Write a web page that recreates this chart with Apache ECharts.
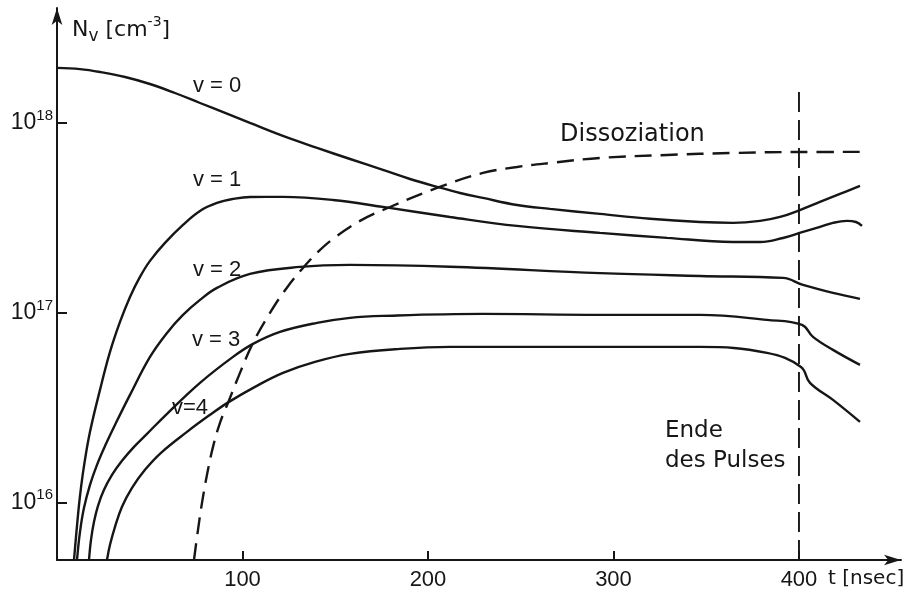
<!DOCTYPE html>
<html>
<head>
<meta charset="utf-8">
<script src="https://cdn.jsdelivr.net/npm/echarts@6/dist/echarts.min.js"></script>
<style>
  html, body { margin: 0; padding: 0; background: #ffffff; }
  #chart { width: 915px; height: 603px; }
</style>
</head>
<body>
<div id="chart"></div>
<script>
// Vibrational level populations N_v [cm^-3] versus time t [nsec]

// axis ticks and ranges
const xTicks = [100, 200, 300, 400];
const yTicks = [1e16, 1e17, 1e18];
const xMin = 0, xMax = 455;
const yMin = 5e15, yMax = 4.03e18;

// v = 0
const tV0 = [0, 12.4, 23.2, 36.7, 50.1, 63.6, 77.1, 90.6, 104.0, 121.8, 140.2, 158.0, 175.7, 190.3, 204.9, 217.3, 229.6, 248.0, 265.8, 292.7, 319.7, 346.6, 364.4, 379.0, 389.8, 400.5, 411.3, 422.1, 432.9];
const nV0 = [1.95e18, 1.92e18, 1.855e18, 1.746e18, 1.604e18, 1.438e18, 1.274e18, 1.129e18, 1.0e18, 8.54e17, 7.39e17, 6.46e17, 5.66e17, 5.07e17, 4.61e17, 4.28e17, 4.03e17, 3.70e17, 3.53e17, 3.32e17, 3.13e17, 3.01e17, 2.98e17, 3.05e17, 3.20e17, 3.48e17, 3.84e17, 4.23e17, 4.66e17];

// v = 1
const tV1 = [9.16, 10.78, 12.40, 14.56, 17.79, 23.18, 28.57, 33.96, 39.35, 44.74, 50.13, 58.22, 67.92, 77.09, 86.25, 94.88, 104.04, 121.83, 148.79, 175.74, 211.86, 247.98, 292.72, 328.84, 364.42, 378.98, 391.37, 402.16, 411.32, 418.33, 425.88, 430.73, 433.96];
const nV1 = [5.0e15, 7.567e15, 1.088e16, 1.565e16, 2.364e16, 3.933e16, 6.233e16, 8.967e16, 1.214e17, 1.547e17, 1.878e17, 2.336e17, 2.905e17, 3.442e17, 3.792e17, 3.981e17, 4.079e17, 4.08e17, 3.933e17, 3.614e17, 3.20e17, 2.87e17, 2.637e17, 2.482e17, 2.364e17, 2.36e17, 2.48e17, 2.669e17, 2.835e17, 2.98e17, 3.05e17, 3.01e17, 2.87e17];

// v = 2
const tV2 = [10.78, 12.40, 14.56, 17.79, 21.56, 26.42, 31.81, 39.35, 50.13, 59.30, 67.92, 77.09, 86.25, 104.04, 131.0, 157.95, 211.86, 292.72, 346.63, 391.37, 402.16, 418.33, 432.88];
const nV2 = [5.0e15, 7.038e15, 9.412e15, 1.243e16, 1.585e16, 2.044e16, 2.637e16, 3.702e16, 5.867e16, 7.848e16, 9.761e16, 1.171e17, 1.354e17, 1.604e17, 1.746e17, 1.789e17, 1.75e17, 1.62e17, 1.565e17, 1.528e17, 1.404e17, 1.274e17, 1.185e17];

// v = 3
const tV3 = [17.25, 18.33, 19.95, 22.10, 25.34, 29.65, 35.04, 41.51, 48.52, 59.30, 77.09, 94.88, 105.66, 120.22, 140.16, 157.95, 175.74, 229.65, 292.72, 346.63, 382.75, 401.62, 407.55, 418.33, 432.88];
const nV3 = [5.0e15, 6.386e15, 7.943e15, 9.643e15, 1.171e16, 1.404e16, 1.664e16, 1.971e16, 2.308e16, 2.941e16, 4.281e16, 5.867e16, 6.868e16, 7.943e16, 8.86e16, 9.412e16, 9.643e16, 9.879e16, 9.761e16, 9.76e16, 9.188e16, 8.647e16, 7.478e16, 6.387e16, 5.325e16];

// v = 4
const tV4 = [26.95, 28.57, 31.27, 35.04, 40.43, 47.44, 56.06, 70.08, 82.48, 92.72, 106.74, 121.83, 139.08, 157.95, 184.91, 211.86, 292.72, 346.63, 382.75, 401.08, 405.93, 418.33, 432.88];
const nV4 = [5.0e15, 6.009e15, 7.477e15, 9.526e15, 1.199e16, 1.492e16, 1.834e16, 2.364e16, 2.906e16, 3.401e16, 4.079e16, 4.833e16, 5.522e16, 6.085e16, 6.464e16, 6.624e16, 6.62e16, 6.62e16, 6.158e16, 5.196e16, 4.281e16, 3.484e16, 2.669e16];

// dissociated molecules
const tDiss = [73.85, 76.01, 78.17, 80.86, 84.10, 87.87, 92.18, 98.65, 105.66, 114.82, 123.45, 132.61, 140.70, 148.79, 163.34, 179.51, 204.85, 229.65, 247.98, 265.77, 292.72, 328.84, 364.42, 402.16, 432.88];
const nDiss = [5.0e15, 7.21e15, 1.0e16, 1.404e16, 1.971e16, 2.637e16, 3.359e16, 4.833e16, 6.95e16, 1.0e17, 1.337e17, 1.725e17, 2.095e17, 2.452e17, 3.05e17, 3.61e17, 4.549e17, 5.456e17, 5.867e17, 6.158e17, 6.541e17, 6.786e17, 6.952e17, 7.036e17, 7.04e17];

// end of the pulse
const tPulseEnd = [400, 400];
const nPulseEnd = [5.0e15, 1.58e18];

const INK = '#161616';
const WORD_FONT = 'DejaVu Sans';
const NUM_FONT = 'Liberation Sans';

function pairs(ts, ns) {
  return ts.map((t, i) => [t, ns[i]]);
}

function curve(name, ts, ns, kind) {
  return {
    name: name,
    type: 'line',
    data: pairs(ts, ns),
    showSymbol: false,
    smooth: kind === 'pulse' ? false : 0.4,
    lineStyle: {
      color: INK,
      width: kind === 'pulse' ? 1.9 : 2.4,
      type: kind === 'diss' ? [17, 9] : kind === 'pulse' ? [20, 8] : 'solid',
      cap: 'butt'
    },
    silent: true,
    z: 3
  };
}

// text annotations inside the plot
const notes = [
  { text: 'v = 0', x: 193, y: 86, size: 22, font: NUM_FONT },
  { text: 'v = 1', x: 193, y: 180, size: 22, font: NUM_FONT },
  { text: 'v = 2', x: 193, y: 270, size: 22, font: NUM_FONT },
  { text: 'v = 3', x: 192, y: 340, size: 22, font: NUM_FONT },
  { text: 'v=4', x: 172, y: 408, size: 22, font: NUM_FONT },
  { text: 'Dissoziation', x: 560, y: 135, size: 24, font: WORD_FONT },
  { text: 'Ende', x: 665, y: 431, size: 23, font: WORD_FONT },
  { text: 'des Pulses', x: 665, y: 461, size: 23, font: WORD_FONT },
  { text: 't [nsec]', x: 828, y: 579, size: 20, font: WORD_FONT }
];

const chart = echarts.init(document.getElementById('chart'), null, { renderer: 'canvas' });

const option = {
  animation: false,
  backgroundColor: '#ffffff',
  grid: { left: 57, right: 14, top: 8, bottom: 43 },
  xAxis: {
    type: 'value',
    min: xMin,
    max: xMax,
    axisLine: {
      show: true,
      onZero: false,
      symbol: ['none', 'arrow'],
      symbolSize: [8, 17],
      lineStyle: { color: INK, width: 2 }
    },
    axisTick: {
      show: true,
      inside: true,
      length: 9,
      customValues: xTicks,
      lineStyle: { color: INK, width: 2 }
    },
    axisLabel: {
      customValues: xTicks,
      margin: 9,
      color: INK,
      fontFamily: NUM_FONT,
      fontSize: 22
    },
    splitLine: { show: false }
  },
  yAxis: {
    type: 'log',
    logBase: 10,
    min: yMin,
    max: yMax,
    axisLine: {
      show: true,
      onZero: false,
      symbol: ['none', 'arrow'],
      symbolSize: [8, 17],
      lineStyle: { color: INK, width: 2 }
    },
    axisTick: {
      show: true,
      inside: true,
      length: 10,
      customValues: yTicks,
      lineStyle: { color: INK, width: 2 }
    },
    axisLabel: {
      customValues: yTicks,
      margin: 4,
      color: INK,
      formatter: function (v) {
        const e = Math.round(Math.log10(v));
        return '{b|10}{s|' + e + '}';
      },
      rich: {
        b: { fontFamily: NUM_FONT, fontSize: 23, lineHeight: 30, color: INK },
        s: { fontFamily: NUM_FONT, fontSize: 15, lineHeight: 15, verticalAlign: 'top', color: INK }
      }
    },
    splitLine: { show: false }
  },
  series: [
    curve('v = 0', tV0, nV0),
    curve('v = 1', tV1, nV1),
    curve('v = 2', tV2, nV2),
    curve('v = 3', tV3, nV3),
    curve('v = 4', tV4, nV4),
    curve('Dissoziation', tDiss, nDiss, 'diss'),
    curve('Ende des Pulses', tPulseEnd, nPulseEnd, 'pulse')
  ],
  graphic: notes.map(n => ({
    type: 'text',
    x: n.x,
    y: n.y,
    silent: true,
    style: {
      text: n.text,
      fill: INK,
      fontFamily: n.font,
      fontSize: n.size,
      align: 'left',
      verticalAlign: 'middle'
    }
  })).concat([{
    // axis title N_v [cm^-3]
    type: 'text',
    x: 72,
    y: 15,
    silent: true,
    style: {
      text: '{n|N}{sub|v}{n| [cm}{sup|-3}{n|]}',
      align: 'left',
      verticalAlign: 'top',
      rich: {
        n: { fontFamily: WORD_FONT, fontSize: 22, lineHeight: 30, fill: INK, color: INK },
        sub: { fontFamily: WORD_FONT, fontSize: 17, lineHeight: 20, verticalAlign: 'bottom', fill: INK, color: INK },
        sup: { fontFamily: WORD_FONT, fontSize: 14, lineHeight: 20, verticalAlign: 'top', fill: INK, color: INK }
      }
    }
  }])
};

chart.setOption(option);
</script>
</body>
</html>
